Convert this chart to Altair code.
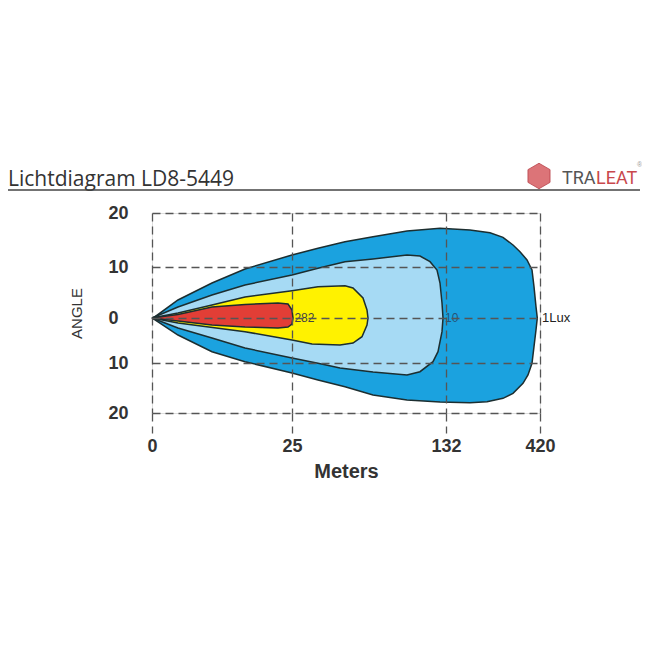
import altair as alt
import pandas as pd

# ---- data (meters along beam, angle in degrees) ----
x_ticks = [0, 25, 132, 420]
y_ticks = [-20, -10, 0, 10, 20]

outer_m = [0, 0.54, 4.64, 10.71, 16.61, 25, 43.06, 61.82, 81.28, 104.9, 127.83,
           205.5, 266.8, 306.6, 337.3, 358.7, 380.2, 395.5, 401.6, 407.7, 411.7,
           407.7, 401.6, 395.5, 383.2, 367.9, 337.3, 306.6, 257.6, 205.5,
           127.83, 104.9, 81.28, 61.82, 43.06, 25, 16.61, 10.71, 4.64, 0.54, 0]
outer_a = [0, 0.25, 3.53, 6.86, 9.61, 12.22, 13.46, 14.69, 15.61, 16.67, 17.17,
           16.85, 16.35, 15.5, 14.07, 12.83, 11.3, 9.41, 6.14, 2.22, 0,
           -2.67, -6.38, -10.06, -12.4, -14.06, -16.06, -17.06, -17.74, -17.94,
           -17.8, -17.4, -16.4, -14.74, -13.4, -12.0, -9.71, -7.49, -3.78, -0.44, 0]

light_m = [0, 4.64, 10.71, 16.61, 25, 43.06, 61.82, 81.28, 104.9, 113.93, 120.88, 125.75, 127.83, 129.22, 129.92,
           129.22, 126.44, 122.97, 113.93, 104.9, 81.28, 58.35, 43.06, 25, 16.61, 10.71, 4.64, 0]
light_a = [0, 2.16, 4.51, 6.47, 8.43, 9.75, 10.98, 11.48, 12.22, 12.04, 10.98, 9.41, 6.86, 2.94, 0,
           -3.04, -7.49, -9.71, -11.74, -12.4, -11.8, -11.0, -10.06, -8.89, -6.67, -4.44, -2.22, 0]

yellow_m = [0, 4.64, 10.71, 16.61, 25, 43.06, 61.82, 67.38, 74.33, 77.11, 77.8,
            77.11, 73.64, 67.38, 58.35, 38.9, 25, 16.61, 4.64, 0]
yellow_a = [0, 0.98, 2.55, 4.12, 5.35, 6.14, 6.33, 5.88, 3.92, 1.57, 0,
            -1.56, -4.16, -5.56, -6.0, -5.78, -4.89, -3.04, -1.11, 0]

red_m = [0, 4.64, 10.71, 16.61, 22.5, 24.29, 25, 25.69,
         25, 24.29, 22.5, 16.61, 10.71, 4.64, 0]
red_a = [0, 0.69, 2.16, 2.65, 2.94, 2.75, 1.57, 0,
         -1.33, -2.0, -2.22, -2.0, -1.56, -0.67, 0]

label_text = ["282", "10", "1Lux"]
label_m = [26, 130.6, 423]
label_a = [0, 0, 0]

W, H = 388, 200

xscale = alt.Scale(domain=x_ticks, range=[0, 140, 294, 388], nice=False, zero=False)
yscale = alt.Scale(domain=y_ticks, range=[200, 150, 105, 54, 0], nice=False, zero=False)

xaxis = alt.Axis(values=x_ticks, grid=True, gridDash=[8, 5], gridColor="#555", gridWidth=1.3, gridOpacity=1,
                 domain=False, tickDash=[8, 5], tickSize=20, tickColor="#555", tickWidth=1.3,
                 labelFont="Liberation Sans", labelFontSize=18, labelFontWeight="bold", labelColor="#333",
                 labelPadding=4, title="Meters", titleFont="Liberation Sans", titleFontSize=20,
                 titleFontWeight="bold", titleColor="#333", titlePadding=6, zindex=1, labelFlush=False)
yaxis = alt.Axis(values=y_ticks, grid=True, gridDash=[8, 5], gridColor="#555", gridWidth=1.3, gridOpacity=1,
                 domain=False, ticks=False, labelExpr="abs(datum.value)", labelAlign="left",
                 labelFont="Liberation Sans", labelFontSize=18, labelFontWeight="bold", labelColor="#333",
                 labelPadding=44, title="ANGLE", titleFont="Liberation Sans", titleFontSize=15,
                 titleFontWeight="normal", titleColor="#333", titlePadding=24, zindex=1, labelFlush=False)


def shape(ms, angs, fill):
    df = pd.DataFrame({"m": ms, "a": angs, "i": range(len(ms))})
    return alt.Chart(df).mark_line(fill=fill, stroke="#1c2e30", strokeWidth=1.5, interpolate="linear").encode(
        x=alt.X("m:Q", scale=xscale, axis=xaxis),
        y=alt.Y("a:Q", scale=yscale, axis=yaxis),
        order="i:Q",
    )


layers = [
    shape(outer_m, outer_a, "#1ba2df"),
    shape(light_m, light_a, "#a6daf4"),
    shape(yellow_m, yellow_a, "#fff200"),
    shape(red_m, red_a, "#e23e36"),
]

labels = pd.DataFrame({"m": label_m, "a": label_a, "t": label_text,
                       "c": ["#444444", "#24557a", "#222222"], "s": [12, 12, 13]})
lab = alt.Chart(labels).mark_text(align="left", baseline="middle", dx=1, font="Liberation Sans").encode(
    x=alt.X("m:Q", scale=xscale), y=alt.Y("a:Q", scale=yscale), text="t:N",
    color=alt.Color("c:N", scale=None), size=alt.Size("s:Q", scale=None))

one = pd.DataFrame({"t": ["Lichtdiagram LD8-5449"]})
title = alt.Chart(one).mark_text(align="left", baseline="alphabetic", font="Open Sans", fontSize=21,
                                 color="#333").encode(x=alt.value(-144), y=alt.value(-27), text="t:N")
underline = alt.Chart(one).mark_rule(color="#444", strokeWidth=1.5).encode(
    x=alt.value(-144), x2=alt.value(488), y=alt.value(-23))
hexpath = "M0,-1L0.866,-0.5L0.866,0.5L0,1L-0.866,0.5L-0.866,-0.5Z"
logo = alt.Chart(one).mark_point(shape=hexpath, filled=True, size=650, color="#dc7478", opacity=1,
                                 stroke="#b84048", strokeWidth=0.8).encode(x=alt.value(387), y=alt.value(-37))
tra = alt.Chart(pd.DataFrame({"t": ["TRA"]})).mark_text(
    align="left", baseline="alphabetic", font="Roboto", fontSize=18, color="#555").encode(
    x=alt.value(410), y=alt.value(-29), text="t:N")
leat = alt.Chart(pd.DataFrame({"t": ["LEAT"]})).mark_text(
    align="left", baseline="alphabetic", font="Roboto", fontSize=18, color="#c9484c").encode(
    x=alt.value(444), y=alt.value(-29), text="t:N")
reg = alt.Chart(pd.DataFrame({"t": ["®"]})).mark_text(
    align="left", baseline="alphabetic", font="Liberation Sans", fontSize=7, color="#999").encode(
    x=alt.value(485), y=alt.value(-46), text="t:N")

chart = alt.layer(*layers, lab, title, underline, logo, tra, leat, reg).properties(
    width=W, height=H,
    autosize=alt.AutoSizeParams(type="none"),
    padding={"left": 144, "top": 205, "right": 102, "bottom": 229},
).configure_view(stroke=None).configure(background="white")

chart.save("out.html", embed_options={"renderer": "svg", "actions": False})
